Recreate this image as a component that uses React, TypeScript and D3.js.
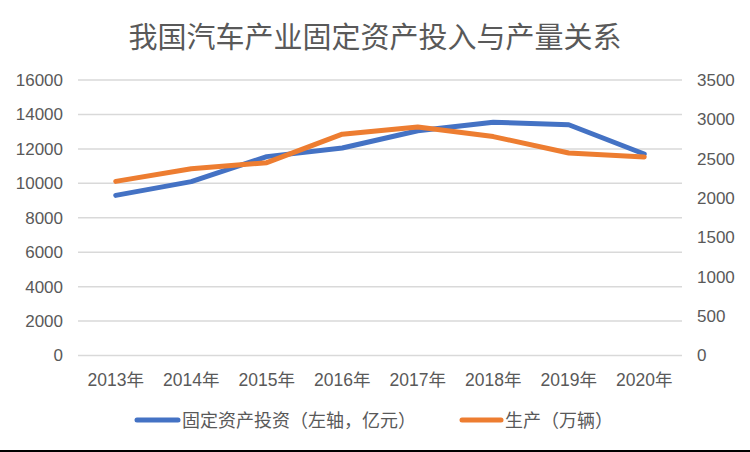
import React from "react";
import * as d3 from "d3";

const years = ["2013年", "2014年", "2015年", "2016年", "2017年", "2018年", "2019年", "2020年"];
const investment = [9300, 10100, 11550, 12050, 13050, 13550, 13400, 11700];
const production = [2212, 2372, 2450, 2812, 2902, 2781, 2572, 2523];
const leftTicks = [0, 2000, 4000, 6000, 8000, 10000, 12000, 14000, 16000];
const rightTicks = [0, 500, 1000, 1500, 2000, 2500, 3000, 3500];
const title = "我国汽车产业固定资产投入与产量关系";
const seriesNames = ["固定资产投资（左轴，亿元）", "生产（万辆）"];

const W = 750;
const H = 452;
const BLUE = "#4472C4";
const ORANGE = "#ED7D31";
const TEXT = "#595959";
const FONT = "'Liberation Sans', 'Noto Sans CJK SC', sans-serif";
const CJK = "'Noto Sans CJK SC', sans-serif";

export default function App() {
  const x = d3.scaleBand<string>().domain(years).range([78, 682]);
  const cx = (d: string) => (x(d) ?? 0) + x.bandwidth() / 2;
  const yL = d3.scaleLinear().domain([0, 16000]).range([355.5, 80]);
  const yR = d3.scaleLinear().domain([0, 3500]).range([355.5, 80]);

  const lineL = d3
    .line<number>()
    .x((_, i) => cx(years[i]))
    .y((d) => yL(d));
  const lineR = d3
    .line<number>()
    .x((_, i) => cx(years[i]))
    .y((d) => yR(d));

  return (
    <svg
      width={W}
      height={H}
      style={{ position: "absolute", left: 0, top: 0, background: "#fff" }}
    >
      <rect x={0} y={0} width={W} height={H} fill="#fff" />
      <text
        x={375}
        y={48}
        textAnchor="middle"
        fontSize={29}
        fill={TEXT}
        fontFamily={CJK}
      >
        {title}
      </text>

      {leftTicks.map((t) => (
        <g key={"l" + t}>
          <line x1={78} x2={682} y1={yL(t)} y2={yL(t)} stroke="#D9D9D9" strokeWidth={1.5} />
          <text
            x={63}
            y={yL(t)}
            dy="0.35em"
            textAnchor="end"
            fontSize={17}
            fill={TEXT}
            fontFamily={FONT}
          >
            {t}
          </text>
        </g>
      ))}

      {rightTicks.map((t) => (
        <text
          key={"r" + t}
          x={697}
          y={yR(t)}
          dy="0.35em"
          textAnchor="start"
          fontSize={17}
          fill={TEXT}
          fontFamily={FONT}
        >
          {t}
        </text>
      ))}

      {years.map((y) => (
        <text
          key={y}
          x={cx(y)}
          y={386}
          textAnchor="middle"
          fontSize={17.5}
          fill={TEXT}
          fontFamily={FONT}
        >
          {y}
        </text>
      ))}

      <path
        d={lineL(investment) ?? ""}
        fill="none"
        stroke={BLUE}
        strokeWidth={5}
        strokeLinejoin="round"
        strokeLinecap="round"
      />
      <path
        d={lineR(production) ?? ""}
        fill="none"
        stroke={ORANGE}
        strokeWidth={5}
        strokeLinejoin="round"
        strokeLinecap="round"
      />

      <line x1={137} x2={178} y1={420} y2={420} stroke={BLUE} strokeWidth={5} strokeLinecap="round" />
      <text x={182} y={427} fontSize={18} fill={TEXT} fontFamily={CJK}>
        {seriesNames[0]}
      </text>
      <line x1={462} x2={501} y1={420} y2={420} stroke={ORANGE} strokeWidth={5} strokeLinecap="round" />
      <text x={505} y={427} fontSize={18} fill={TEXT} fontFamily={CJK}>
        {seriesNames[1]}
      </text>

      <rect x={0} y={450} width={W} height={2} fill="#000" />
    </svg>
  );
}
